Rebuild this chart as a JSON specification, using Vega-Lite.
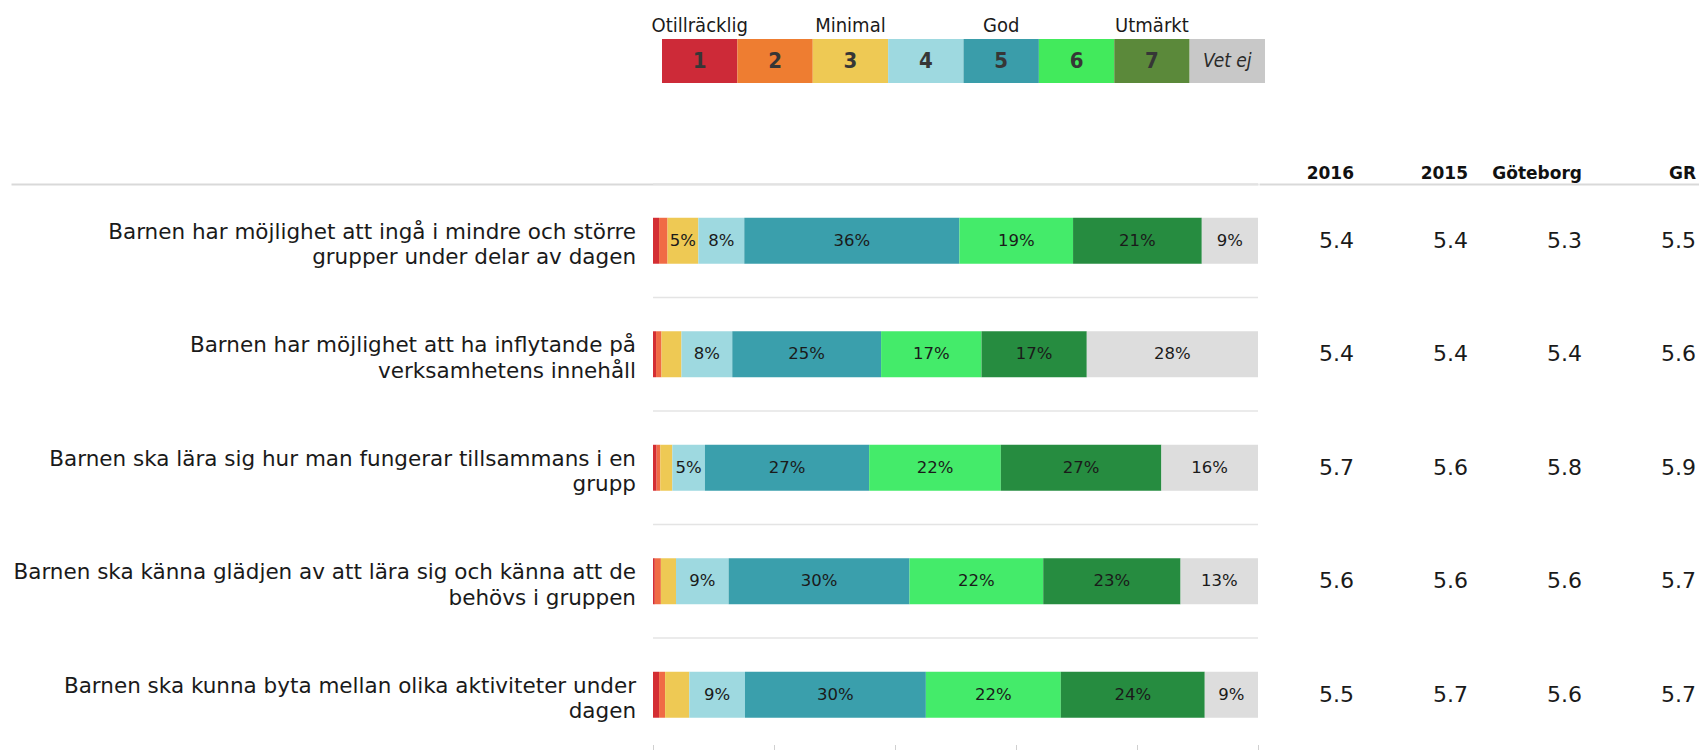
{
  "$schema": "https://vega.github.io/schema/vega-lite/v6.json",
  "padding": {"left": 11, "top": 16, "right": 0, "bottom": 0},
  "background": "white",
  "config": {"view": {"stroke": null}, "axis": {"grid": false}, "font": "DejaVu Sans"},
  "datasets": {
    "legend": [
      {"lcat": "1", "desc": "Otillräcklig"},
      {"lcat": "2", "desc": ""},
      {"lcat": "3", "desc": "Minimal"},
      {"lcat": "4", "desc": ""},
      {"lcat": "5", "desc": "God"},
      {"lcat": "6", "desc": ""},
      {"lcat": "7", "desc": "Utmärkt"},
      {"lcat": "Vet ej", "desc": ""}
    ],
    "questions": [
      {"q": "Q1", "lines": ["Barnen har möjlighet att ingå i mindre och större", "grupper under delar av dagen"]},
      {"q": "Q2", "lines": ["Barnen har möjlighet att ha inflytande på", "verksamhetens innehåll"]},
      {"q": "Q3", "lines": ["Barnen ska lära sig hur man fungerar tillsammans i en", "grupp"]},
      {"q": "Q4", "lines": ["Barnen ska känna glädjen av att lära sig och känna att de", "behövs i gruppen"]},
      {"q": "Q5", "lines": ["Barnen ska kunna byta mellan olika aktiviteter under", "dagen"]}
    ],
    "shares": [
      {"q": "Q1", "cat": "1", "v": 0.010}, {"q": "Q1", "cat": "2", "v": 0.014}, {"q": "Q1", "cat": "3", "v": 0.051}, {"q": "Q1", "cat": "4", "v": 0.076},
      {"q": "Q1", "cat": "5", "v": 0.356}, {"q": "Q1", "cat": "6", "v": 0.188}, {"q": "Q1", "cat": "7", "v": 0.213}, {"q": "Q1", "cat": "Vet ej", "v": 0.093},
      {"q": "Q2", "cat": "1", "v": 0.005}, {"q": "Q2", "cat": "2", "v": 0.009}, {"q": "Q2", "cat": "3", "v": 0.033}, {"q": "Q2", "cat": "4", "v": 0.084},
      {"q": "Q2", "cat": "5", "v": 0.246}, {"q": "Q2", "cat": "6", "v": 0.166}, {"q": "Q2", "cat": "7", "v": 0.174}, {"q": "Q2", "cat": "Vet ej", "v": 0.283},
      {"q": "Q3", "cat": "1", "v": 0.006}, {"q": "Q3", "cat": "2", "v": 0.006}, {"q": "Q3", "cat": "3", "v": 0.020}, {"q": "Q3", "cat": "4", "v": 0.054},
      {"q": "Q3", "cat": "5", "v": 0.272}, {"q": "Q3", "cat": "6", "v": 0.218}, {"q": "Q3", "cat": "7", "v": 0.266}, {"q": "Q3", "cat": "Vet ej", "v": 0.160},
      {"q": "Q4", "cat": "1", "v": 0.003}, {"q": "Q4", "cat": "2", "v": 0.010}, {"q": "Q4", "cat": "3", "v": 0.025}, {"q": "Q4", "cat": "4", "v": 0.087},
      {"q": "Q4", "cat": "5", "v": 0.299}, {"q": "Q4", "cat": "6", "v": 0.221}, {"q": "Q4", "cat": "7", "v": 0.227}, {"q": "Q4", "cat": "Vet ej", "v": 0.128},
      {"q": "Q5", "cat": "1", "v": 0.010}, {"q": "Q5", "cat": "2", "v": 0.010}, {"q": "Q5", "cat": "3", "v": 0.040}, {"q": "Q5", "cat": "4", "v": 0.092},
      {"q": "Q5", "cat": "5", "v": 0.299}, {"q": "Q5", "cat": "6", "v": 0.223}, {"q": "Q5", "cat": "7", "v": 0.238}, {"q": "Q5", "cat": "Vet ej", "v": 0.088}
    ],
    "means": [
      {"q": "Q1", "col": "2016", "val": 5.4}, {"q": "Q1", "col": "2015", "val": 5.4}, {"q": "Q1", "col": "Göteborg", "val": 5.3}, {"q": "Q1", "col": "GR", "val": 5.5},
      {"q": "Q2", "col": "2016", "val": 5.4}, {"q": "Q2", "col": "2015", "val": 5.4}, {"q": "Q2", "col": "Göteborg", "val": 5.4}, {"q": "Q2", "col": "GR", "val": 5.6},
      {"q": "Q3", "col": "2016", "val": 5.7}, {"q": "Q3", "col": "2015", "val": 5.6}, {"q": "Q3", "col": "Göteborg", "val": 5.8}, {"q": "Q3", "col": "GR", "val": 5.9},
      {"q": "Q4", "col": "2016", "val": 5.6}, {"q": "Q4", "col": "2015", "val": 5.6}, {"q": "Q4", "col": "Göteborg", "val": 5.6}, {"q": "Q4", "col": "GR", "val": 5.7},
      {"q": "Q5", "col": "2016", "val": 5.5}, {"q": "Q5", "col": "2015", "val": 5.7}, {"q": "Q5", "col": "Göteborg", "val": 5.6}, {"q": "Q5", "col": "GR", "val": 5.7}
    ]
  },
  "spacing": 81,
  "resolve": {"scale": {"x": "independent", "y": "independent", "color": "independent"}},
  "vconcat": [
    {
      "spacing": 0,
      "bounds": "flush",
      "hconcat": [
        {
          "width": 651,
          "height": 44,
          "view": {"fill": "#ffffff", "stroke": null},
          "data": {"values": []},
          "mark": "text"
        },
        {
          "width": 603,
          "height": 44,
          "data": {"name": "legend"},
          "encoding": {
            "x": {"field": "lcat", "type": "nominal",
                  "scale": {"type": "band", "domain": ["1", "2", "3", "4", "5", "6", "7", "Vet ej"], "paddingInner": 0, "paddingOuter": 0},
                  "axis": null}
          },
          "layer": [
            {
              "mark": {"type": "rect"},
              "encoding": {
                "color": {"field": "lcat", "type": "nominal",
                          "scale": {"domain": ["1", "2", "3", "4", "5", "6", "7", "Vet ej"],
                                    "range": ["#CD2A38", "#EE7D31", "#EEC954", "#9ED9E0", "#3A9DAA", "#42EA5C", "#5B893A", "#C8C8C8"]},
                          "legend": null}
              }
            },
            {
              "transform": [{"filter": "datum.lcat != 'Vet ej'"}],
              "mark": {"type": "text", "font": "Liberation Sans Narrow, DejaVu Sans Condensed, Roboto Condensed, Roboto, sans-serif", "fontSize": 22, "fontWeight": "bold", "color": "#363636"},
              "encoding": {"text": {"field": "lcat", "type": "nominal"}}
            },
            {
              "transform": [{"filter": "datum.lcat == 'Vet ej'"}],
              "mark": {"type": "text", "font": "Liberation Sans Narrow, DejaVu Sans Condensed, Roboto Condensed, Roboto, sans-serif", "fontSize": 19, "fontStyle": "italic", "color": "#2a2a2a"},
              "encoding": {"text": {"field": "lcat", "type": "nominal"}}
            },
            {
              "mark": {"type": "text", "font": "Liberation Sans Narrow, DejaVu Sans Condensed, Roboto Condensed, Roboto, sans-serif", "fontSize": 20, "baseline": "alphabetic", "dy": -7, "color": "#1a1a1a"},
              "encoding": {"text": {"field": "desc", "type": "nominal"}, "y": {"value": 0}}
            }
          ]
        }
      ]
    },
    {
      "spacing": 0,
      "resolve": {"scale": {"x": "independent", "color": "independent"}},
      "hconcat": [
        {
          "width": 1247,
          "height": 567.5,
          "resolve": {"axis": {"x": "independent"}},
          "layer": [
            {
              "data": {"name": "questions"},
              "mark": {"type": "rule", "color": "#e4e4e4", "strokeWidth": 1.5},
              "encoding": {
                "x": {"datum": 0, "type": "quantitative",
                      "scale": {"domain": [-1.0612, 1], "nice": false, "zero": false},
                      "axis": {"orient": "top", "labels": false, "ticks": false, "domain": true, "domainColor": "#d9d9d9", "domainWidth": 2, "title": null}},
                "x2": {"datum": 1},
                "y": {"field": "q", "type": "nominal", "bandPosition": 0,
                      "scale": {"domain": ["Q1", "Q2", "Q3", "Q4", "Q5"], "paddingInner": 0, "paddingOuter": 0},
                      "axis": null}
              }
            },
            {
              "data": {"name": "shares"},
              "mark": {"type": "bar", "height": {"band": 0.405}},
              "encoding": {
                "x": {"field": "v", "type": "quantitative", "stack": "normalize",
                      "scale": {"domain": [-1.0612, 1], "nice": false, "zero": false},
                      "axis": {"orient": "bottom", "values": [0, 0.2, 0.4, 0.6, 0.8, 1], "labels": false, "domain": false, "ticks": true, "tickColor": "#d0d0d0", "tickSize": 5, "offset": -7, "title": null}},
                "y": {"field": "q", "type": "nominal",
                      "scale": {"domain": ["Q1", "Q2", "Q3", "Q4", "Q5"], "paddingInner": 0, "paddingOuter": 0},
                      "axis": null},
                "color": {"field": "cat", "type": "nominal",
                          "scale": {"domain": ["1", "2", "3", "4", "5", "6", "7", "Vet ej"],
                                    "range": ["#D42E33", "#F06B45", "#EEC954", "#9ED9E0", "#3A9FAC", "#44EB6A", "#268C40", "#DDDDDD"]},
                          "legend": null},
                "order": {"field": "cat", "type": "ordinal"}
              }
            },
            {
              "data": {"name": "shares"},
              "mark": {"type": "text", "fontSize": 16.5, "color": "#1a1a1a"},
              "encoding": {
                "x": {"field": "v", "type": "quantitative", "stack": "normalize", "bandPosition": 0.5, "axis": null},
                "y": {"field": "q", "type": "nominal", "axis": null},
                "order": {"field": "cat", "type": "ordinal"},
                "text": {"condition": {"test": "datum.v < 0.045", "value": ""}, "field": "v", "type": "quantitative", "format": ".0%"}
              }
            },
            {
              "data": {"name": "questions"},
              "mark": {"type": "text", "align": "right", "baseline": "middle", "dx": -17, "dy": -8, "fontSize": 21.5, "lineHeight": 25.5, "color": "#1a1a1a"},
              "encoding": {
                "x": {"datum": 0, "type": "quantitative", "axis": null},
                "y": {"field": "q", "type": "nominal", "axis": null},
                "text": {"field": "lines"}
              }
            }
          ]
        },
        {
          "width": 441,
          "height": 567.5,
          "data": {"name": "means"},
          "mark": {"type": "text", "align": "right", "baseline": "middle", "fontSize": 22, "color": "#1a1a1a"},
          "encoding": {
            "x": {"field": "col", "type": "nominal", "bandPosition": 1,
                  "scale": {"type": "band", "domain": ["2016", "2015", "Göteborg", "GR"], "paddingInner": 0.1667, "paddingOuter": 0.01754, "align": 0},
                  "axis": {"orient": "top", "labelAlign": "right", "labelOffset": 47.5, "labelAngle": 0, "labelBaseline": "alphabetic", "labelPadding": 6,
                           "labelFont": "DejaVu Sans", "labelFontWeight": "bold", "labelFontSize": 17, "labelColor": "#111111",
                           "ticks": false, "domain": true, "domainColor": "#d9d9d9", "domainWidth": 2, "title": null}},
            "y": {"field": "q", "type": "nominal",
                  "scale": {"domain": ["Q1", "Q2", "Q3", "Q4", "Q5"], "paddingInner": 0, "paddingOuter": 0},
                  "axis": null},
            "text": {"field": "val", "type": "quantitative", "format": ".1f"}
          }
        }
      ]
    }
  ]
}
